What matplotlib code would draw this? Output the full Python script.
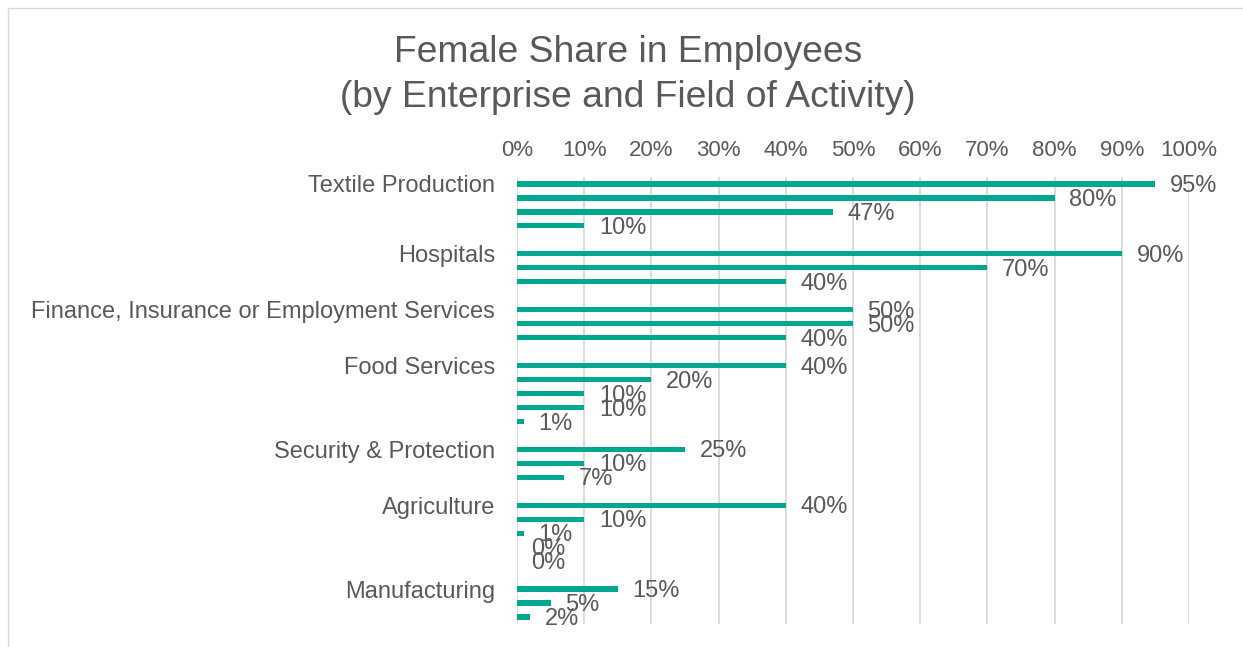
import matplotlib
matplotlib.use("Agg")
import matplotlib.pyplot as plt
import numpy as np

categories = ["Textile Production", "", "", "", "",
              "Hospitals", "", "", "",
              "Finance, Insurance or Employment Services", "", "", "",
              "Food Services", "", "", "", "", "",
              "Security & Protection", "", "", "",
              "Agriculture", "", "", "", "", "",
              "Manufacturing", "", ""]
values = [95, 80, 47, 10, None,
          90, 70, 40, None,
          50, 50, 40, None,
          40, 20, 10, 10, 1, None,
          25, 10, 7, None,
          40, 10, 1, 0, 0, None,
          15, 5, 2]
xticks = [0, 10, 20, 30, 40, 50, 60, 70, 80, 90, 100]
title = "Female Share in Employees\n(by Enterprise and Field of Activity)"

plt.rcParams['font.family'] = ['Liberation Sans', 'DejaVu Sans']
TEXT = "#595959"
BAR = "#00A88F"
GRID = "#D9D9D9"

W, H = 1243, 647
fig = plt.figure(figsize=(W / 100, H / 100), dpi=100)

# chart-area border (cropped on right and bottom)
fig.add_artist(plt.Rectangle((8 / W, -0.1), 1.2, 1 - 8 / H + 0.1, transform=fig.transFigure,
                             fill=False, edgecolor="#D9D9D9", linewidth=1))

ax = fig.add_axes([517 / W, 1 - 624 / H, 672 / W, 447 / H])
n = len(values)
ypos = np.arange(n)
vals = np.array([np.nan if v is None else v for v in values], dtype=float)
ax.barh(ypos, np.nan_to_num(vals), height=0.37, color=BAR, zorder=3)

for y, v in zip(ypos, vals):
    if not np.isnan(v):
        ax.annotate(f"{int(v)}%", (v, y), xytext=(10.5, -1.5), textcoords="offset points",
                    ha="left", va="center", fontsize=17, color=TEXT, zorder=4)

ax.set_xlim(0, 100)
ax.set_ylim(n - 0.5, -0.5)
ax.set_xticks(xticks)
ax.set_xticklabels([f"{t}%" for t in xticks])
ax.xaxis.tick_top()
ax.tick_params(axis="x", length=0, pad=11.5, labelsize=16, labelcolor=TEXT)
ax.set_yticks(ypos)
ax.set_yticklabels(categories)
ax.tick_params(axis="y", length=0, pad=15.8, labelsize=17, labelcolor=TEXT)
ax.grid(axis="x", color=GRID, linewidth=1.3, zorder=0)
for s in ax.spines.values():
    s.set_visible(False)

fig.text(628 / W, 1 - 75 / H, title, ha="center", va="center", fontsize=26.8,
         color=TEXT, linespacing=1.36)

fig.savefig("out.png", dpi=100)
